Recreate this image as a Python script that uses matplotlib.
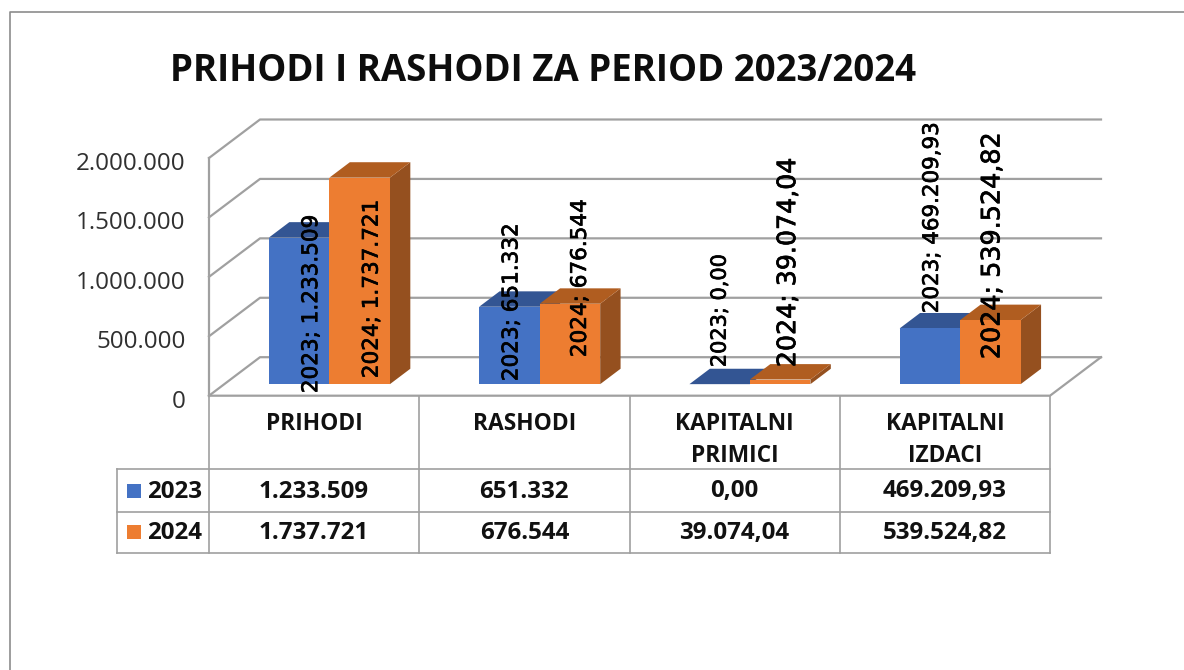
import matplotlib
matplotlib.use("Agg")
import matplotlib.pyplot as plt
import matplotlib.patheffects as pe
from matplotlib.patches import Polygon, Rectangle
from matplotlib.transforms import ScaledTranslation

categories = ["PRIHODI", "RASHODI", "KAPITALNI\nPRIMICI", "KAPITALNI\nIZDACI"]
years = ["2023", "2024"]
values_2023 = [1233509, 651332, 0.00, 469209.93]
values_2024 = [1737721, 676544, 39074.04, 539524.82]
text_2023 = ["1.233.509", "651.332", "0,00", "469.209,93"]
text_2024 = ["1.737.721", "676.544", "39.074,04", "539.524,82"]
y_ticks = [0, 500000, 1000000, 1500000, 2000000]
y_tick_labels = ["0", "500.000", "1.000.000", "1.500.000", "2.000.000"]

BLUE = ("#4472C4", "#335593", "#2F5597")
ORANGE = ("#ED7D31", "#B05D20", "#95501F")
GRID = "#a0a0a0"

W, H = 1184, 670
LEFT, RIGHT, FLOOR, TOP = 209, 1050, 395.7, 158

# depth of the fake 3d box, in data units
DX = 51 / (RIGHT - LEFT) * 4
DY = 38.5 / (FLOOR - TOP) * 2000000
BAR_W = 60.5 / (RIGHT - LEFT) * 4
D0, D1 = 0.3, 0.7

# label tweaks, pixels from the front bottom middle of the bar
label_dx = [[12, 2, 0, 2], [12, 10, 8, 2]]
label_dy = [[-9, 3, 17, 71], [6, 27, 17, 25]]
label_size = [[15.5, 15.5, 15, 15.4], [15.5, 15.5, 18.2, 18.3]]

fig = plt.figure(figsize=(W / 100, H / 100), dpi=100)

# pixel overlay for frame, title and table
bg = fig.add_axes([0, 0, 1, 1])
bg.set_xlim(0, W)
bg.set_ylim(H, 0)
bg.axis("off")

ax = fig.add_axes([LEFT / W, 1 - FLOOR / H, (RIGHT - LEFT) / W, (FLOOR - TOP) / H])
ax.patch.set_alpha(0)
ax.set_xlim(0, 4)
ax.set_ylim(0, 2000000)
for s in ax.spines.values():
    s.set_visible(False)
ax.set_xticks([])
ax.set_yticks(y_ticks)
ax.set_yticklabels(y_tick_labels, family="Open Sans", fontsize=17.4, color="#303030")
ax.tick_params(axis="y", length=0, pad=17)
fig.canvas.draw()
# labels sit about 3px below the gridline in the reference
shift = ScaledTranslation(0, -3 / 100, fig.dpi_scale_trans)
for tick in ax.yaxis.get_major_ticks():
    tick.label1.set_transform(tick.label1.get_transform() + shift)

# walls and floor
for t in y_ticks:
    ax.plot([0, DX, 4 + DX], [t, t + DY, t + DY], color=GRID, lw=1.6, clip_on=False, zorder=1)
ax.plot([0, 0], [0, 2000000], color=GRID, lw=1.6, clip_on=False, zorder=1)
ax.plot([0, 4, 4 + DX], [0, 0, DY], color=GRID, lw=1.6, clip_on=False, zorder=1)


def bar3d(x, v, cols):
    xa, xb = x + D0 * DX, x + BAR_W + D0 * DX
    y0 = D0 * DY
    dx = (D1 - D0) * DX
    dy = (D1 - D0) * DY
    ax.add_patch(Polygon([(xb, y0), (xb + dx, y0 + dy), (xb + dx, y0 + dy + v), (xb, y0 + v)],
                         fc=cols[2], ec="none", clip_on=False, zorder=2))
    ax.add_patch(Polygon([(xa, y0 + v), (xb, y0 + v), (xb + dx, y0 + dy + v), (xa + dx, y0 + dy + v)],
                         fc=cols[1], ec="none", clip_on=False, zorder=2))
    ax.add_patch(Rectangle((xa, y0), BAR_W, v, fc=cols[0], ec="none", clip_on=False, zorder=2))
    return xa + BAR_W / 2, y0


for k, (vals, cols) in enumerate(zip([values_2023, values_2024], [BLUE, ORANGE])):
    for i, v in enumerate(vals):
        x = i + 0.5 - BAR_W + k * BAR_W
        cx, y0 = bar3d(x, v, cols)
        txt = years[k] + "; " + (text_2023 if k == 0 else text_2024)[i]
        ann = ax.annotate(txt, xy=(cx, y0), xytext=(label_dx[k][i], label_dy[k][i]),
                          textcoords="offset pixels", rotation=90, ha="center", va="bottom",
                          fontsize=label_size[k][i], color="black", zorder=5, annotation_clip=False)
        # reference text is a bit heavier than regular DejaVu
        ann.set_path_effects([pe.withStroke(linewidth=0.5, foreground="black")])

# outer frame, runs off the right and bottom of the picture
bg.plot([W, 9.5, 9.5], [12, 12, H], color="#8c8c8c", lw=1.2, clip_on=False)

bg.text(170, 71, "PRIHODI I RASHODI ZA PERIOD 2023/2024", family="Open Sans", fontweight="bold",
        fontsize=26.4, ha="left", va="center", color="#0d0d0d")

# data table under the chart
col_x = [LEFT + i * (RIGHT - LEFT) / 4 for i in range(5)]
rows_y = [469.3, 511.7, 552.7]
TAB = "#a0a0a0"
bg.plot([117, RIGHT], [rows_y[0]] * 2, color=TAB, lw=1.2)
bg.plot([117, RIGHT], [rows_y[1]] * 2, color=TAB, lw=1.2)
bg.plot([117, RIGHT], [rows_y[2]] * 2, color=TAB, lw=1.2)
bg.plot([117, 117], [rows_y[0], rows_y[2]], color=TAB, lw=1.2)
for x in col_x:
    bg.plot([x, x], [FLOOR, rows_y[2]], color=TAB, lw=1.2)

tf = dict(family="Open Sans", fontweight="bold", color="#111111", ha="center")
for i, c in enumerate(categories):
    xc = (col_x[i] + col_x[i + 1]) / 2
    bg.text(xc, 412, c, va="top", fontsize=16.4, linespacing=1.42, **tf)
    bg.text(xc, 491.5, text_2023[i], va="center", fontsize=17.4, **tf)
    bg.text(xc, 533, text_2024[i], va="center", fontsize=17.4, **tf)

for r, (y, cols) in enumerate(zip([490.5, 532], [BLUE, ORANGE])):
    bg.add_patch(Rectangle((127, y - 7), 14, 14, fc=cols[0], ec="none"))
    bg.text(175, y + 1, years[r], va="center", fontsize=17.4, **tf)

fig.savefig("out.png", dpi=100, facecolor="white")
